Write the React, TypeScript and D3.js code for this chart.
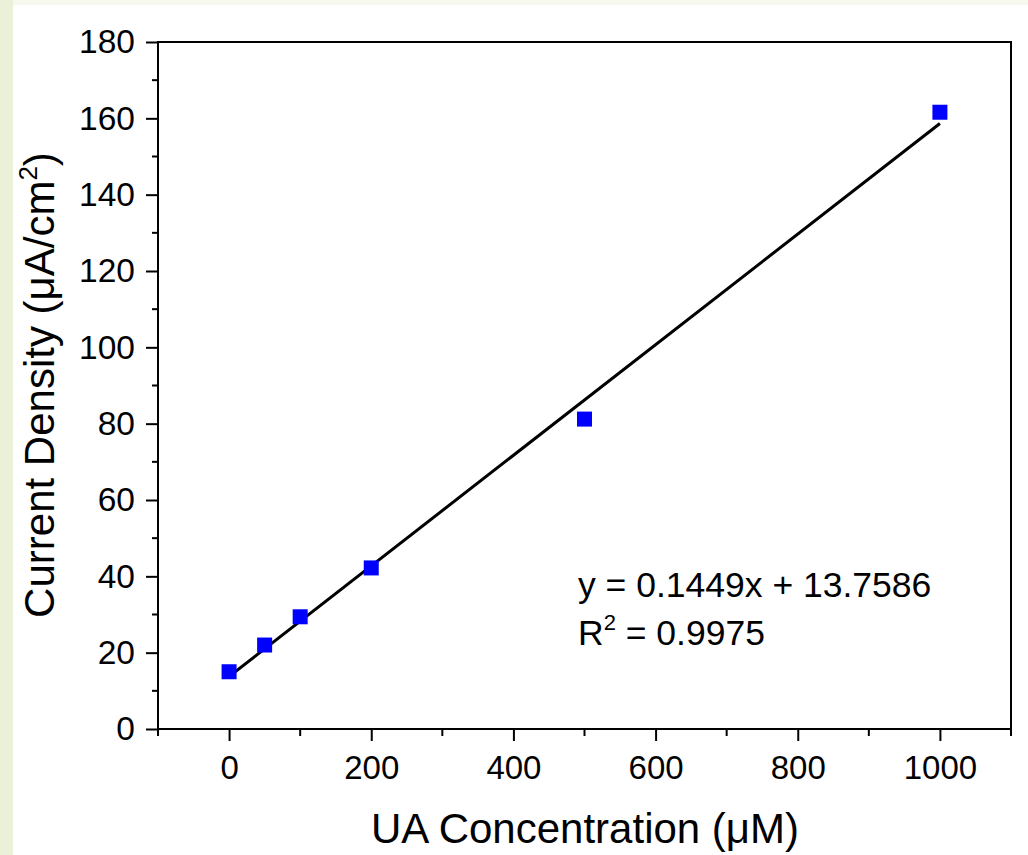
import React, { useEffect, useRef } from 'react';
import * as d3 from 'd3';

const concentrations = [0, 50, 100, 200, 500, 1000];
const currentDensity = [15, 22, 29.4, 42.2, 81.2, 161.6];
const fitSlope = 0.1449;
const fitIntercept = 13.7586;
const xTicks = [0, 200, 400, 600, 800, 1000];
const yTicks = [0, 20, 40, 60, 80, 100, 120, 140, 160, 180];

function App() {
  const ref = useRef<SVGSVGElement>(null);

  useEffect(() => {
    const svg = d3.select(ref.current);
    svg.selectAll('*').remove();
    const W = 1028, H = 855;
    const left = 158, right = 1011, top = 42, bottom = 729;
    const font = 'Liberation Sans, Arial, sans-serif';

    // page background strips
    svg.append('rect').attr('width', W).attr('height', H).attr('fill', '#f7f8f0');
    svg.append('rect').attr('x', 0).attr('y', 0).attr('width', 13).attr('height', H).attr('fill', '#ebf0d9');
    svg.append('rect').attr('x', 13).attr('y', 5).attr('width', W - 13).attr('height', H - 5).attr('fill', '#ffffff');

    const x = d3.scaleLinear().domain([-100, 1100]).range([left, right]);
    const y = d3.scaleLinear().domain([0, 180]).range([bottom, top]);

    // frame
    svg.append('rect')
      .attr('x', left).attr('y', top)
      .attr('width', right - left).attr('height', bottom - top)
      .attr('fill', 'none').attr('stroke', '#000').attr('stroke-width', 2);

    // bottom axis
    const xAxis = svg.append('g').attr('transform', 'translate(0,' + bottom + ')');
    xAxis.call(d3.axisBottom(x).tickValues(xTicks).tickSize(12).tickPadding(15).tickFormat(d3.format('d')));
    xAxis.select('.domain').remove();
    xAxis.selectAll('line').attr('stroke-width', 2);
    xAxis.selectAll('text').attr('font-family', font).attr('font-size', 33).attr('fill', '#000');
    const xMinor = d3.range(-100, 1101, 100).filter((v) => v % 200 !== 0);
    xAxis.selectAll('.minor').data(xMinor).enter().append('line')
      .attr('x1', (d) => x(d)).attr('x2', (d) => x(d))
      .attr('y1', 0).attr('y2', 7)
      .attr('stroke', '#000').attr('stroke-width', 2);

    // left axis
    const yAxis = svg.append('g').attr('transform', 'translate(' + left + ',0)');
    yAxis.call(d3.axisLeft(y).tickValues(yTicks).tickSize(12).tickPadding(11));
    yAxis.select('.domain').remove();
    yAxis.selectAll('line').attr('stroke-width', 2);
    yAxis.selectAll('text').attr('font-family', font).attr('font-size', 33.5).attr('fill', '#000');
    const yMinor = d3.range(10, 180, 20);
    yAxis.selectAll('.minor').data(yMinor).enter().append('line')
      .attr('x1', 0).attr('x2', -6)
      .attr('y1', (d) => y(d)).attr('y2', (d) => y(d))
      .attr('stroke', '#000').attr('stroke-width', 2);

    // fit line
    const fit = [0, 1000].map((c) => [c, fitSlope * c + fitIntercept]);
    svg.append('path')
      .datum(fit)
      .attr('fill', 'none')
      .attr('stroke', '#000')
      .attr('stroke-width', 3)
      .attr('d', d3.line<number[]>().x((d) => x(d[0])).y((d) => y(d[1])));

    // data points
    const s = 15;
    svg.selectAll('.pt').data(concentrations).enter().append('rect')
      .attr('x', (d) => x(d) - s / 2)
      .attr('y', (d, i) => y(currentDensity[i]) - s / 2)
      .attr('width', s).attr('height', s)
      .attr('fill', '#0000ff');

    // equation
    const eq = svg.append('g').attr('font-family', font).attr('font-size', 35.5).attr('fill', '#000');
    eq.append('text').attr('x', 578).attr('y', 597).text('y = 0.1449x + 13.7586');
    const r2 = eq.append('text').attr('x', 578).attr('y', 645);
    r2.append('tspan').text('R');
    r2.append('tspan').attr('font-size', 22).attr('dy', -15).text('2');
    r2.append('tspan').attr('dy', 15).text(' = 0.9975');

    // axis titles
    svg.append('text')
      .attr('x', 585).attr('y', 843)
      .attr('text-anchor', 'middle')
      .attr('font-family', font).attr('font-size', 42)
      .text('UA Concentration (μM)');

    const yt = svg.append('text')
      .attr('transform', 'translate(54,385) rotate(-90)')
      .attr('text-anchor', 'middle')
      .attr('font-family', font).attr('font-size', 42);
    yt.append('tspan').text('Current Density (μA/cm');
    yt.append('tspan').attr('font-size', 26).attr('dy', -17).text('2');
    yt.append('tspan').attr('dy', 17).text(')');
  }, []);

  return (
    <svg ref={ref} width={1028} height={855}
      style={{ position: 'absolute', left: 0, top: 0, display: 'block' }} />
  );
}

export default App;
